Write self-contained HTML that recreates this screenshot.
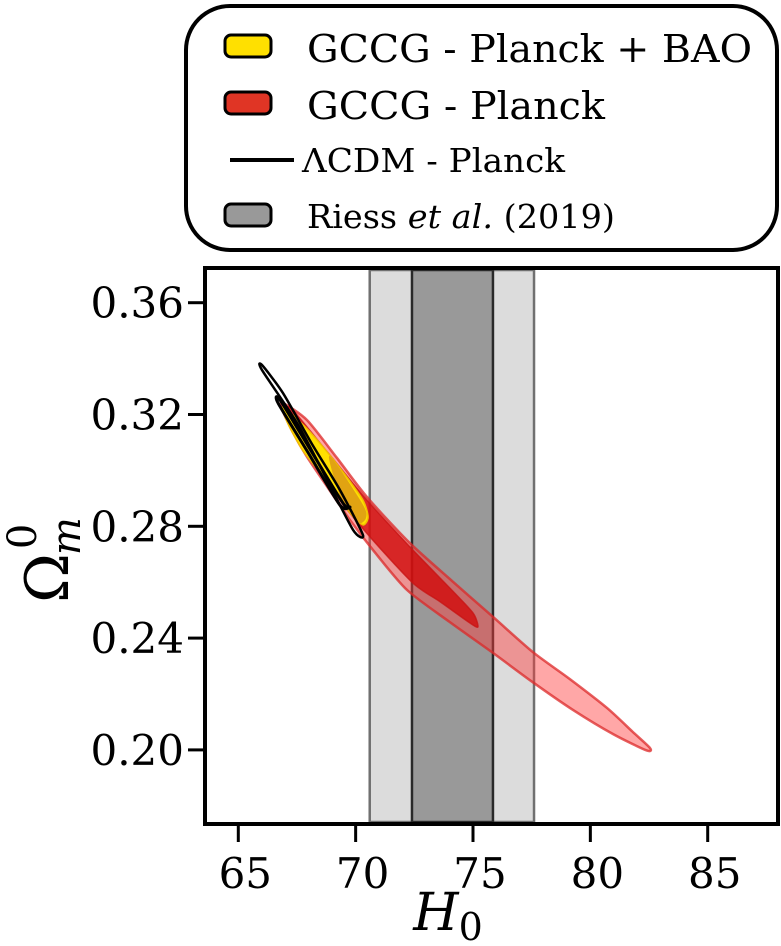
<!DOCTYPE html>
<html><head><meta charset="utf-8"><style>
html,body{margin:0;padding:0;background:#fff;}
svg{display:block;font-family:"DejaVu Serif","Liberation Serif",serif;}
</style></head><body>
<svg id="chart" width="781" height="946" viewBox="0 0 781 946" xmlns="http://www.w3.org/2000/svg">
<g id="bands"></g>
<g id="contours"></g>
<rect x="205" y="268" width="573" height="556" fill="none" stroke="#000" stroke-width="4"/>
<g id="xticks"></g>
<g id="yticks"></g>
<text x="448" y="930" font-size="52" font-style="italic" text-anchor="middle">H<tspan font-style="normal" font-size="38" dy="10">0</tspan></text>
<text transform="translate(68,560) rotate(-90)" font-size="60" text-anchor="middle">Ω<tspan font-size="40" font-style="italic" dy="12" dx="-2">m</tspan><tspan font-size="40" dy="-44" dx="-32">0</tspan></text>
<g>
<rect x="186" y="6" width="591" height="244" rx="44" fill="#fff" stroke="#000" stroke-width="4"/>
<rect x="225" y="35" width="46" height="22" rx="6" fill="#ffe000" stroke="#000" stroke-width="3"/>
<text x="307" y="62" font-size="38" textLength="445" lengthAdjust="spacingAndGlyphs">GCCG - Planck + BAO</text>
<rect x="225" y="92" width="46" height="22" rx="6" fill="#e03525" stroke="#000" stroke-width="3"/>
<text x="307" y="119" font-size="38" textLength="298" lengthAdjust="spacingAndGlyphs">GCCG - Planck</text>
<line x1="230" y1="160" x2="294" y2="160" stroke="#000" stroke-width="4"/>
<text x="302" y="172" font-size="33" textLength="263" lengthAdjust="spacingAndGlyphs">ΛCDM - Planck</text>
<rect x="225" y="204" width="46" height="22" rx="6" fill="#999" stroke="#000" stroke-width="3"/>
<text x="307" y="228" font-size="33" textLength="308" lengthAdjust="spacingAndGlyphs">Riess <tspan font-style="italic">et al.</tspan> (2019)</text>
</g>
</svg>
<script>
const xTicks = [65, 70, 75, 80, 85];
const yTicks = [0.36, 0.32, 0.28, 0.24, 0.20];
const riessInner = [72.4, 75.85];
const riessOuter = [70.6, 77.6];
const redOuter = [[66.90,.3241],[67.93,.3180],[69.2,.3045],[70.48,.2905],[72.31,.2740],[74.1,.2605],[75.85,.2476],[77.55,.2350],[79.1,.2255],[80.71,.2150],[81.8,.2065],[82.54,.2007],[82.4,.1998],[81.0,.2055],[79.26,.2143],[77.5,.2245],[75.85,.2347],[74.0,.2458],[72.19,.2572],[70.74,.2715],[69.76,.2822],[68.8,.2940],[67.93,.3048],[67.3,.3140],[66.85,.3222]];
const redInner = [[67.20,.3227],[68.8,.3065],[70.48,.2894],[72.44,.2715],[74.0,.2580],[75.0,.2490],[75.21,.2440],[74.87,.2454],[73.6,.2530],[72.44,.2597],[70.61,.2762],[69.33,.2894],[68.3,.3030],[67.33,.3170]];
const yellowOuter = [[66.90,.3227],[67.8,.3160],[68.61,.3084],[69.5,.2990],[70.31,.2894],[70.53,.2833],[70.31,.2805],[69.76,.2848],[68.8,.2960],[67.76,.3070],[67.1,.3170]];
const yellowInner = [[68.9,.3050],[70.3,.2875],[70.42,.2830],[70.1,.2815],[69.4,.2900]];
const lcdmOuter = [[66.01,.3377],[66.90,.3277],[68.1,.3100],[69.33,.2930],[70.31,.2769],[69.89,.2787],[68.7,.2980],[67.50,.3170],[66.01,.3359]];
const lcdmInner = [[66.78,.3252],[68.1,.3070],[69.46,.2883],[69.76,.2869],[69.33,.2876],[68.0,.3060],[66.70,.3240]];

const NS = "http://www.w3.org/2000/svg";
const X = h => 238.3 + (h - 65) * 23.47;
const Y = o => 302.7 + (0.36 - o) * 2795;
function mk(tag, attrs, parent) {
  const e = document.createElementNS(NS, tag);
  for (const k in attrs) e.setAttribute(k, attrs[k]);
  parent.appendChild(e);
  return e;
}
function smoothPath(pts) {
  const p = pts.map(d => [X(d[0]), Y(d[1])]);
  const n = p.length;
  const t = 8;
  let s = "M" + p[0][0] + "," + p[0][1];
  for (let i = 0; i < n; i++) {
    const p0 = p[(i - 1 + n) % n], p1 = p[i], p2 = p[(i + 1) % n], p3 = p[(i + 2) % n];
    const c1 = [p1[0] + (p2[0] - p0[0]) / t, p1[1] + (p2[1] - p0[1]) / t];
    const c2 = [p2[0] - (p3[0] - p1[0]) / t, p2[1] - (p3[1] - p1[1]) / t];
    s += "C" + c1[0] + "," + c1[1] + " " + c2[0] + "," + c2[1] + " " + p2[0] + "," + p2[1];
  }
  return s + "Z";
}
const bands = document.getElementById("bands");
const bo = mk("rect", {x: X(riessOuter[0]), y: 270, width: X(riessOuter[1]) - X(riessOuter[0]), height: 552, fill: "#dcdcdc", stroke: "#707070", "stroke-width": 2.5}, bands);


const bi = mk("rect", {x: X(riessInner[0]), y: 270, width: X(riessInner[1]) - X(riessInner[0]), height: 552, fill: "#999999", stroke: "#2a2a2a", "stroke-width": 2.5}, bands);



const cg = document.getElementById("contours");
const specs = [
  [redOuter, "rgba(255,60,60,0.45)", "rgba(220,40,40,0.75)", 2.5, "planck-contour-2sigma"],
  [redInner, "rgba(210,10,10,0.8)", "rgba(200,20,20,0.8)", 1.5, "planck-contour-1sigma"],
  [yellowOuter, "#ffe000", "#f0c000", 1.5, "planck-bao-contour-2sigma"],
  [yellowInner, "#e1a312", "#e1a312", 1, "planck-bao-contour-1sigma"],
  [lcdmOuter, "none", "#000", 2.5, "lcdm-contour-2sigma"],
  [lcdmInner, "none", "#000", 3, "lcdm-contour-1sigma"]
];
for (const s of specs) {
  const path = mk("path", {d: smoothPath(s[0]), fill: s[1], stroke: s[2], "stroke-width": s[3], "stroke-linejoin": "round"}, cg);
  
  
}
const xg = document.getElementById("xticks");
for (const t of xTicks) {
  const l = mk("line", {x1: X(t), x2: X(t), y1: 826, y2: 842, stroke: "#000", "stroke-width": 3}, xg);
  
  
  const tx = mk("text", {x: X(t) + 7, y: 888, "font-size": 42, "text-anchor": "middle"}, xg);
  tx.textContent = String(t);
  
  
}
const yg = document.getElementById("yticks");
for (const t of yTicks) {
  const l = mk("line", {x1: 188, x2: 204, y1: Y(t), y2: Y(t), stroke: "#000", "stroke-width": 3}, yg);
  
  
  const tx = mk("text", {x: 184, y: Y(t) + 15, "font-size": 42, "text-anchor": "end"}, yg);
  tx.textContent = t.toFixed(2);
  
  
}
</script>
</body></html>
